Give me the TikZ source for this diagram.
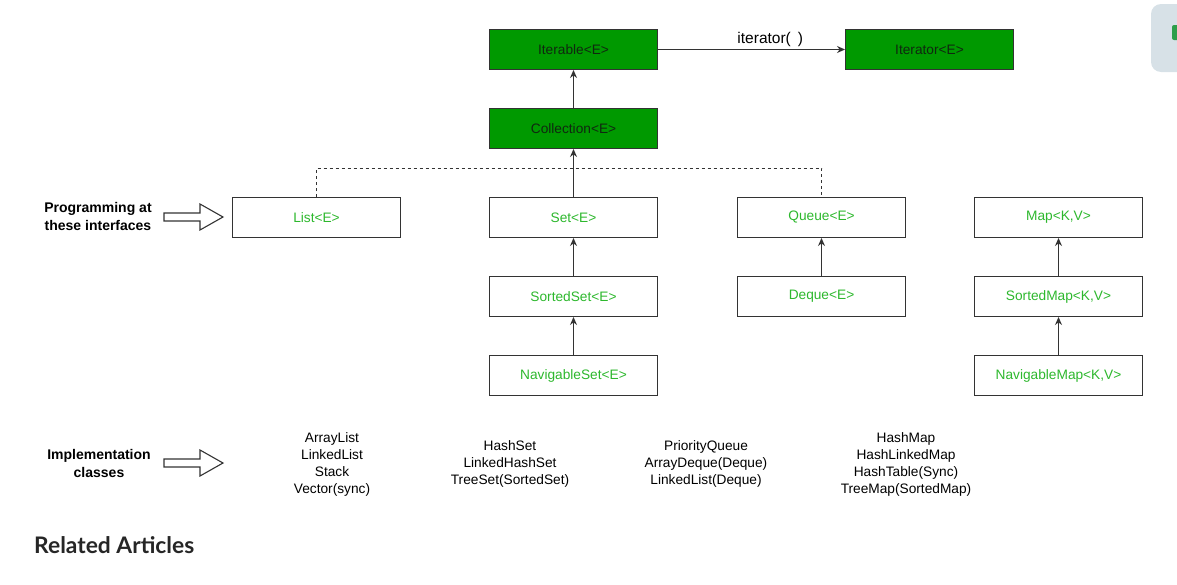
\documentclass[tikz,border=0pt]{standalone}
\usepackage{fontspec}
\setmainfont{Liberation Sans}
\newfontfamily\relfont[BoldFont={Lato Bold}]{Lato}
\usetikzlibrary{arrows.meta}
\definecolor{boxgreen}{HTML}{009900}
\definecolor{txtgreen}{HTML}{2DB82D}
\definecolor{darktxt}{HTML}{102810}
\definecolor{linec}{HTML}{333333}
\definecolor{widgetbg}{HTML}{D7E1E7}
\definecolor{widgetgreen}{HTML}{2E9E4A}
\tikzset{
  x=1pt,y=-1pt,
  base/.style={rectangle,draw=linec,line width=1pt,minimum width=168pt,minimum height=40pt,inner sep=0pt,anchor=north west,font=\fontsize{13.7}{16}\selectfont},
  gbox/.style={base,fill=boxgreen,text=darktxt},
  wbox/.style={base,fill=white,text=txtgreen},
  conn/.style={draw=linec,line width=1pt,-{Stealth[length=8pt,width=7pt]}},
  dconn/.style={draw=linec,line width=1pt,dash pattern=on 3pt off 3pt},
  impl/.style={align=center,font=\fontsize{13.7}{17}\selectfont,text=black,inner sep=0pt},
  side/.style={align=center,font=\fontsize{14}{18}\selectfont\bfseries,text=black,inner sep=0pt},
  hollow/.style={draw=linec,line width=1.1pt,fill=white},
}
\begin{document}
\begin{tikzpicture}
\useasboundingbox (0,0) rectangle (1177,584);
% widget at top right
\fill[widgetbg,rounded corners=10pt] (1151,4) rectangle (1195,72);
\fill[widgetgreen,rounded corners=2pt] (1172,25) rectangle (1182,40);

% green boxes
\node[gbox] (iterable) at (489,29) {Iterable<E>};
\node[gbox] (iterator) at (845,29) {Iterator<E>};
\node[gbox] (collection) at (489,108) {Collection<E>};

% interface boxes
\node[wbox] (list) at (232,197) {List<E>};
\node[wbox] (set) at (489,197) {Set<E>};
\node[wbox] (queue) at (737,197) {Queue<E>};
\node[wbox] (map) at (974,197) {Map<K,V>};
\node[wbox] (sortedset) at (489,276) {SortedSet<E>};
\node[wbox] (deque) at (737,276) {Deque<E>};
\node[wbox] (sortedmap) at (974,276) {SortedMap<K,V>};
\node[wbox] (navset) at (489,355) {NavigableSet<E>};
\node[wbox] (navmap) at (974,355) {NavigableMap<K,V>};

% connectors
\draw[conn] (iterable.east) -- node[pos=0.6,above=2pt,font=\fontsize{15.5}{18}\selectfont,inner sep=0pt]{iterator(\,\ )} (iterator.west);
\draw[conn] (collection.north) -- (iterable.south);
\draw[conn] (set.north) -- (collection.south);
\draw[conn] (sortedset.north) -- (set.south);
\draw[conn] (navset.north) -- (sortedset.south);
\draw[conn] (deque.north) -- (queue.south);
\draw[conn] (sortedmap.north) -- (map.south);
\draw[conn] (navmap.north) -- (sortedmap.south);
\coordinate (jl) at (list.north |- 0,168);
\coordinate (jq) at (queue.north |- 0,168);
\draw[dconn] (list.north) -- (jl) -- (jq) -- (queue.north);

% side labels
\node[side] (proglbl) at (98,216) {Programming at\\these interfaces};
\node[side] (impllbl) at (99,463) {Implementation\\classes};
\draw[hollow] (164,213) -- (200,213) -- (200,204) -- (223,217) -- (200,230) -- (200,221) -- (164,221) -- cycle;
\draw[hollow] (164,459) -- (200,459) -- (200,450) -- (223,463) -- (200,476) -- (200,467) -- (164,467) -- cycle;

% implementation classes
\node[impl] (impllist) at (332,464) {ArrayList\\LinkedList\\Stack\\Vector(sync)};
\node[impl] (implset) at (510,464) {HashSet\\LinkedHashSet\\TreeSet(SortedSet)};
\node[impl] (implqueue) at (706,464) {PriorityQueue\\ArrayDeque(Deque)\\LinkedList(Deque)};
\node[impl] (implmap) at (906,464) {HashMap\\HashLinkedMap\\HashTable(Sync)\\TreeMap(SortedMap)};

% related articles
\node[anchor=west,inner sep=0pt,text=black!85,font=\relfont\bfseries\fontsize{22.8}{26}\selectfont] (related) at (34,545) {Related Articles};
\end{tikzpicture}
\end{document}
